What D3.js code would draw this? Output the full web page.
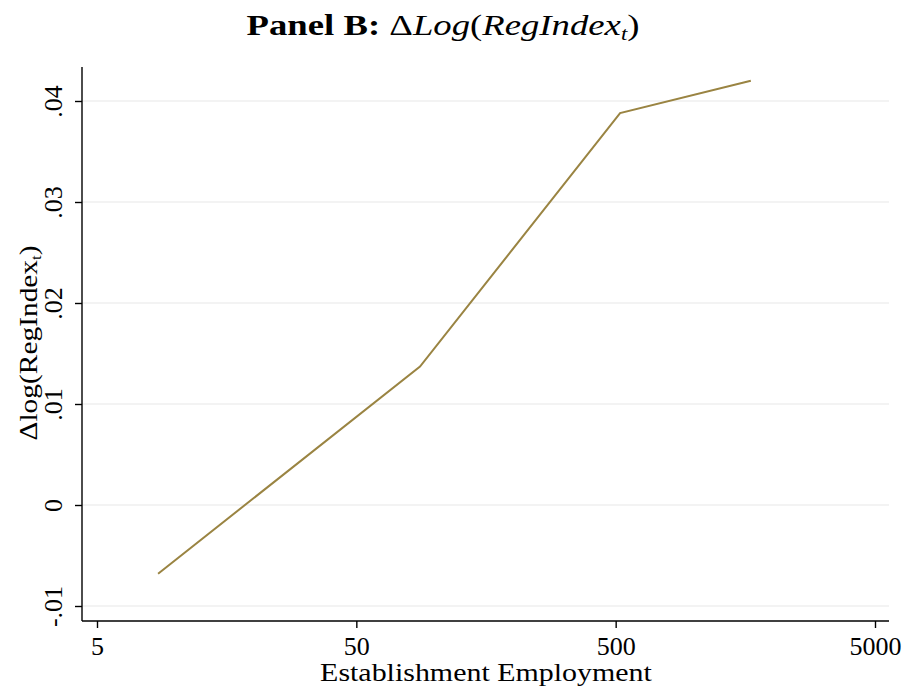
<!DOCTYPE html>
<html>
<head>
<meta charset="utf-8">
<script src="https://cdn.jsdelivr.net/npm/d3@7"></script>
<style>
  html, body { margin: 0; padding: 0; background: #fff; }
  svg text { font-family: "Liberation Serif", "DejaVu Serif", serif; fill: #000; }
</style>
</head>
<body>
<svg id="chart" width="906" height="688"></svg>
<script>
// Establishment size (employees) and change in log regulation index
const employment = [8.6, 88, 520, 1660];
const dLogRegIndex = [-0.0068, 0.0137, 0.0388, 0.0420];
const xTicks = [5, 50, 500, 5000];
const yTicks = [-0.01, 0, 0.01, 0.02, 0.03, 0.04];
const yTickLabels = ["-.01", "0", ".01", ".02", ".03", ".04"];

const svg = d3.select("#chart");
const plotLeft = 82, plotRight = 889, plotTop = 67, plotBottom = 621;

const x = d3.scaleLog().domain([5, 5000]).range([97, 875]);
const y = d3.scaleLinear().domain([-0.01, 0.04]).range([606, 101]);

// widen a centred text horizontally so it spans the given width
function fitWidth(group, textSel, width) {
  const w = textSel.node().getBBox().width;
  textSel.attr("transform", `scale(${width / w},1)`);
}

// grid lines
svg.append("g").selectAll("line").data(yTicks).join("line")
  .attr("x1", plotLeft).attr("x2", plotRight)
  .attr("y1", d => y(d)).attr("y2", d => y(d))
  .attr("stroke", "#e8e8e8").attr("stroke-width", 1.2);

// y axis
const yAxis = svg.append("g").attr("transform", `translate(${plotLeft},0)`)
  .call(d3.axisLeft(y).tickValues(yTicks).tickSize(7)
    .tickFormat((d, i) => yTickLabels[i]));
yAxis.select(".domain").attr("d", `M0,${plotTop}V${plotBottom}`).attr("stroke", "#000").attr("stroke-width", 1.4);
yAxis.selectAll(".tick line").attr("stroke", "#000").attr("stroke-width", 1.4);
yAxis.selectAll(".tick text")
  .attr("font-size", 26)
  .attr("transform", "rotate(-90)")
  .attr("x", 0).attr("y", -20)
  .attr("dy", 0)
  .attr("text-anchor", "middle");

// x axis
const xAxis = svg.append("g").attr("transform", `translate(0,${plotBottom})`)
  .call(d3.axisBottom(x).tickValues(xTicks).tickSize(7).tickFormat(d3.format("d")));
xAxis.select(".domain").attr("d", `M${plotLeft},0H${plotRight}`).attr("stroke", "#000").attr("stroke-width", 1.4);
xAxis.selectAll(".tick line").attr("stroke", "#000").attr("stroke-width", 1.4);
xAxis.selectAll(".tick text").attr("font-size", 26).attr("y", 34).attr("dy", 0);

// data line
svg.append("path")
  .datum(employment.map((e, i) => [e, dLogRegIndex[i]]))
  .attr("fill", "none")
  .attr("stroke", "#9a8442")
  .attr("stroke-width", 2)
  .attr("d", d3.line().x(d => x(d[0])).y(d => y(d[1])));

// x axis title
const xtG = svg.append("g").attr("transform", "translate(486,681)");
const xt = xtG.append("text").attr("text-anchor", "middle").attr("font-size", 25)
  .text("Establishment Employment");
fitWidth(xtG, xt, 332);

// y axis title
const ytG = svg.append("g").attr("transform", "translate(37,343) rotate(-90)");
const yt = ytG.append("text").attr("text-anchor", "middle").attr("font-size", 25);
yt.append("tspan").text("Δlog(RegIndex");
yt.append("tspan").attr("font-size", 14).attr("dy", 4).text("t");
yt.append("tspan").attr("dy", -4).text(")");
fitWidth(ytG, yt, 195);

// panel title
const titleG = svg.append("g").attr("transform", "translate(443,35)");
const title = titleG.append("text").attr("text-anchor", "middle").attr("font-size", 29);
title.append("tspan").attr("font-weight", "bold").text("Panel B: ");
title.append("tspan").text("Δ");
title.append("tspan").attr("font-style", "italic").text("Log");
title.append("tspan").text("(");
title.append("tspan").attr("font-style", "italic").text("RegIndex");
title.append("tspan").attr("font-style", "italic").attr("font-size", 18).attr("dy", 5).text("t");
title.append("tspan").attr("dy", -5).text(")");
fitWidth(titleG, title, 393);
</script>
</body>
</html>
